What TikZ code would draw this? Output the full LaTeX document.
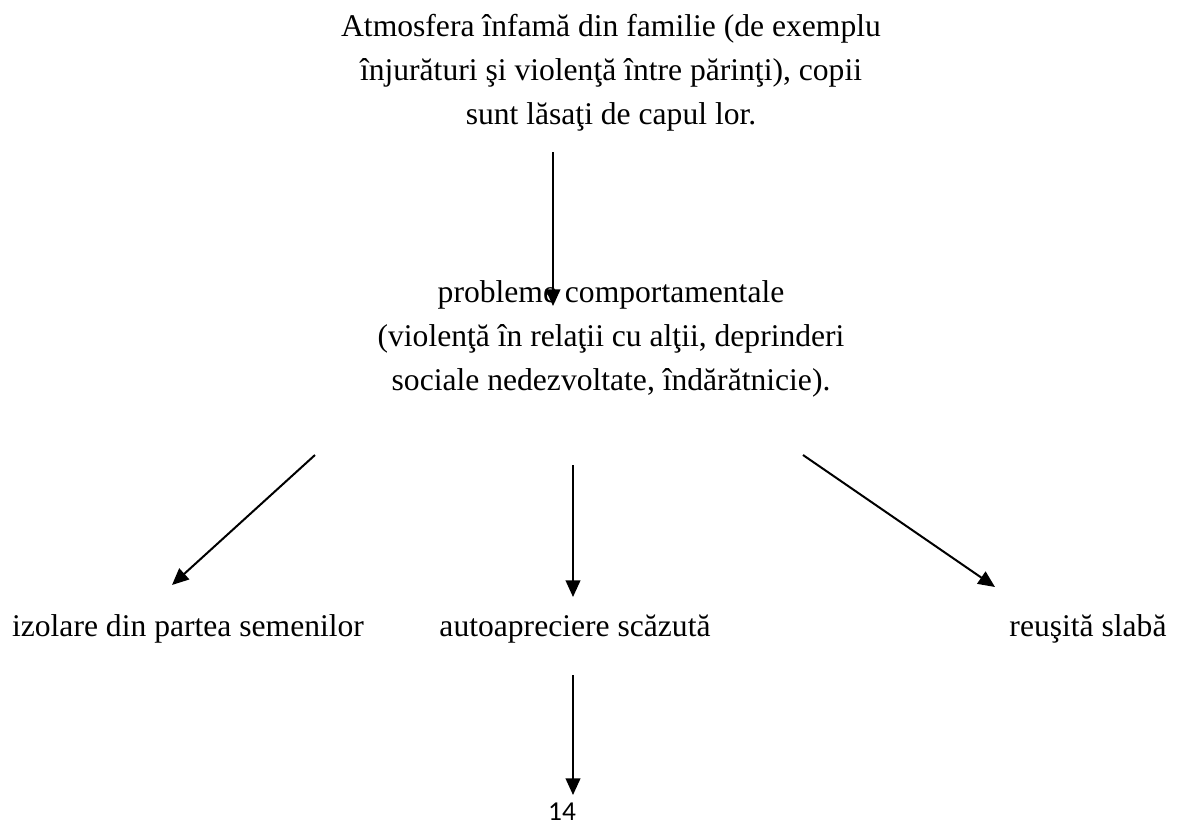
\documentclass[tikz,border=0pt]{standalone}
\usepackage{fontspec}
\setmainfont{Liberation Serif}
\newfontfamily\numfont{Carlito}
\usetikzlibrary{arrows.meta}
\begin{document}
\begin{tikzpicture}[x=0.75pt,y=-0.75pt,
  txt/.style={anchor=base,inner sep=0pt,font=\fontsize{23.7}{28}\selectfont},
  num/.style={anchor=base,inner sep=0pt,font=\numfont\fontsize{20.5}{24}\selectfont},
  arr/.style={line width=1.5pt,-{Triangle[length=12.5pt,width=11pt]}}]
\useasboundingbox (0,0) rectangle (1179,825);
% top block
\node[txt] (t1) at (611,36) {Atmosfera înfamă din familie (de exemplu};
\node[txt] (t2) at (611,80) {înjurături şi violenţă între părinţi), copii};
\node[txt] (t3) at (611,124) {sunt lăsaţi de capul lor.};
% middle block
\node[txt] (m1) at (611,302) {probleme comportamentale};
\node[txt] (m2) at (611,346) {(violenţă în relaţii cu alţii, deprinderi};
\node[txt] (m3) at (611,390) {sociale nedezvoltate, îndărătnicie).};
% bottom row
\node[txt] (b1) at (188,636) {izolare din partea semenilor};
\node[txt] (b2) at (575,636) {autoapreciere scăzută};
\node[txt] (b3) at (1088,636) {reuşită slabă};
\node[num] (pg) at (562,820) {14};
% arrows
\coordinate (a1s) at (553,152);
\coordinate (a1e) at (553,306);
\coordinate (a2s) at (315,455);
\coordinate (a2e) at (172,585);
\coordinate (a3s) at (573,465);
\coordinate (a3e) at (573,597);
\coordinate (a4s) at (803,455);
\coordinate (a4e) at (995,587);
\coordinate (a5s) at (573,675);
\coordinate (a5e) at (573,795);
\draw[arr] (a1s) -- (a1e);
\draw[arr] (a2s) -- (a2e);
\draw[arr] (a3s) -- (a3e);
\draw[arr] (a4s) -- (a4e);
\draw[arr] (a5s) -- (a5e);
\end{tikzpicture}
\end{document}
